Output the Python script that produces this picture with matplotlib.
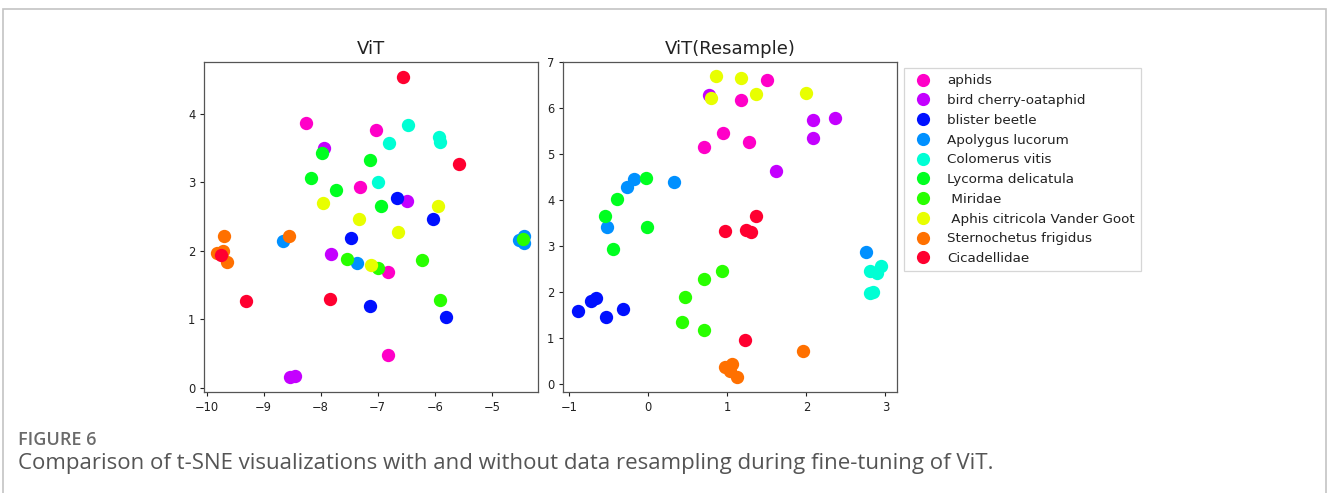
import matplotlib
matplotlib.use("Agg")
import matplotlib.pyplot as plt
from matplotlib.lines import Line2D
from matplotlib.patches import Rectangle

classes = ["aphids", "bird cherry-oataphid", "blister beetle", "Apolygus lucorum",
           "Colomerus vitis", "Lycorma delicatula", " Miridae",
           " Aphis citricola Vander Goot", "Sternochetus frigidus", "Cicadellidae"]
colors = ["#ff00c8", "#c400ff", "#0010ff", "#0090ff", "#00ffd4",
          "#00ff20", "#28ff00", "#e8ff00", "#ff7000", "#ff0030"]

# ViT (no resampling)
vit_x = [
    [-8.25, -7.03, -7.31, -6.82, -6.82],
    [-7.94, -6.48, -7.82, -8.54, -8.45],
    [-6.66, -6.03, -7.47, -7.13, -5.80],
    [-8.66, -4.53, -4.44, -4.44, -7.37],
    [-6.47, -5.92, -5.90, -6.80, -7.00],
    [-7.98, -7.13, -8.17, -7.73, -6.94],
    [-4.46, -7.54, -7.00, -6.22, -5.90],
    [-7.96, -5.94, -7.33, -6.64, -7.12],
    [-9.69, -8.56, -9.81, -9.71, -9.64],
    [-6.56, -5.57, -9.75, -9.31, -7.83],
]
vit_y = [
    [3.87, 3.77, 2.93, 1.69, 0.48],
    [3.50, 2.73, 1.95, 0.16, 0.18],
    [2.77, 2.47, 2.19, 1.20, 1.04],
    [2.15, 2.16, 2.22, 2.12, 1.82],
    [3.84, 3.66, 3.59, 3.58, 3.00],
    [3.43, 3.33, 3.07, 2.89, 2.66],
    [2.17, 1.88, 1.75, 1.87, 1.28],
    [2.70, 2.66, 2.47, 2.28, 1.79],
    [2.22, 2.22, 1.97, 2.00, 1.83],
    [4.54, 3.27, 1.94, 1.27, 1.30],
]

# ViT (Resample)
res_x = [
    [1.50, 1.17, 0.94, 0.70, 1.27],
    [0.77, 2.09, 2.36, 2.08, 1.62],
    [-0.89, -0.73, -0.66, -0.54, -0.32],
    [-0.18, -0.27, 0.33, -0.52, 2.76],
    [2.80, 2.94, 2.89, 2.80, 2.85],
    [-0.035, -0.40, -0.55, -0.02, -0.45],
    [0.93, 0.71, 0.46, 0.43, 0.71],
    [0.86, 1.17, 0.79, 1.36, 1.99],
    [1.96, 0.97, 1.06, 1.03, 1.12],
    [0.97, 1.24, 1.30, 1.36, 1.23],
]
res_y = [
    [6.60, 6.17, 5.46, 5.15, 5.26],
    [6.27, 5.74, 5.77, 5.34, 4.63],
    [1.59, 1.79, 1.86, 1.46, 1.63],
    [4.44, 4.28, 4.39, 3.41, 2.87],
    [2.44, 2.56, 2.40, 1.98, 2.00],
    [4.47, 4.02, 3.64, 3.41, 2.93],
    [2.44, 2.27, 1.88, 1.34, 1.16],
    [6.69, 6.65, 6.22, 6.30, 6.32],
    [0.71, 0.36, 0.43, 0.28, 0.15],
    [3.32, 3.34, 3.29, 3.65, 0.95],
]

W, H = 1327, 493
fig = plt.figure(figsize=(W / 100, H / 100), dpi=100)
fig.patch.set_facecolor("white")

# outer frame of the figure panel
fig.patches.append(Rectangle((3.5 / W, -0.1), (1326 - 3.5) / W, 1.1 - 9.5 / H,
                             transform=fig.transFigure, fill=False,
                             edgecolor="#c4c4c4", linewidth=1.2))

def fx(px):
    return px / W

def fy(py):
    return 1 - py / H

ax1 = fig.add_axes([fx(204.3), fy(392), fx(538) - fx(204.3), fy(61.7) - fy(392)])
ax2 = fig.add_axes([fx(563.3), fy(392), fx(896.7) - fx(563.3), fy(61.7) - fy(392)])

S = 92
for i in range(len(classes)):
    ax1.scatter(vit_x[i], vit_y[i], s=S, color=colors[i], linewidths=0)
    ax2.scatter(res_x[i], res_y[i], s=S, color=colors[i], linewidths=0)

ax1.set_xlim(-10.04, -4.19)
ax1.set_ylim(-0.06, 4.76)
ax1.set_xticks([-10, -9, -8, -7, -6, -5])
ax1.set_yticks([0, 1, 2, 3, 4])
ax2.set_xlim(-1.076, 3.144)
ax2.set_ylim(-0.18, 7.0)
ax2.set_xticks([-1, 0, 1, 2, 3])
ax2.set_yticks([0, 1, 2, 3, 4, 5, 6, 7])

for ax, title in [(ax1, "ViT"), (ax2, "ViT(Resample)")]:
    ax.set_title(title, fontsize=13, color="#222222", pad=5.5)
    ax.tick_params(labelsize=8.3, colors="#222222", length=3, width=0.8)
    for sp in ax.spines.values():
        sp.set_color("#555555")
        sp.set_linewidth(0.9)

handles = [Line2D([0], [0], marker="o", linestyle="none", markersize=9.5,
                  markerfacecolor=c, markeredgewidth=0) for c in colors]
leg = fig.legend(handles, classes, loc="upper left",
                 bbox_to_anchor=(fx(904), fy(68.3)), bbox_transform=fig.transFigure,
                 fontsize=9.7, frameon=True, labelspacing=0.50, handletextpad=0.85,
                 borderpad=0.45, handlelength=1.9, borderaxespad=0)
leg.get_frame().set_edgecolor("#cccccc")
leg.get_frame().set_linewidth(0.9)
leg.get_frame().set_boxstyle("square", pad=0)
for t in leg.get_texts():
    t.set_color("#222222")

fig.text(fx(18), fy(440), "FIGURE 6", fontsize=13, color="#6a6a6a",
         family="Open Sans", fontweight="semibold", va="center", ha="left")
fig.text(fx(18), fy(463), "Comparison of t-SNE visualizations with and without data resampling during fine-tuning of ViT.",
         fontsize=16, color="#555555", family="Open Sans", va="center", ha="left")

fig.savefig("out.png", dpi=100, facecolor="white")
